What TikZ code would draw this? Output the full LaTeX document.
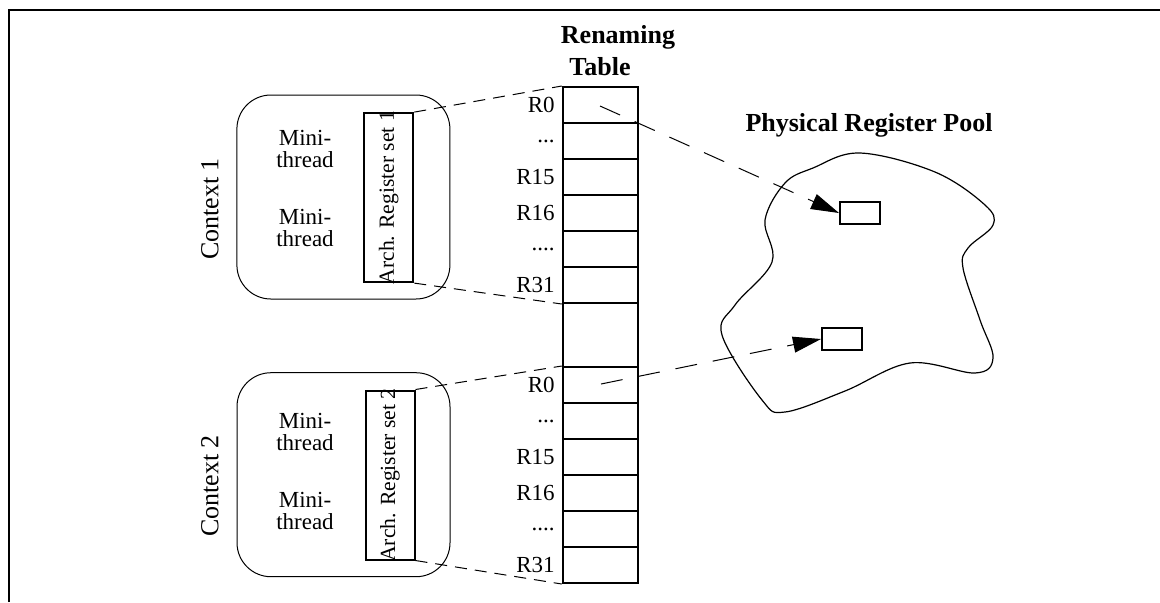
\documentclass[tikz,border=0pt]{standalone}
\usepackage{fontspec}
\setmainfont{Liberation Serif}
\usetikzlibrary{arrows.meta}

\tikzset{
  cell/.style={draw,line width=1pt,minimum width=37.75pt,minimum height=18pt,inner sep=0pt},
  reglbl/.style={font=\fontsize{11.5}{12}\selectfont},
  ctxbox/.style={draw,line width=0.5pt,rounded corners=17pt,minimum width=106.5pt,minimum height=102pt},
  archbox/.style={draw,line width=1pt,minimum width=24.5pt,minimum height=84.5pt,inner sep=0pt},
  archtext/.style={rotate=90,font=\fontsize{10.8}{12}\selectfont},
  ctxtext/.style={rotate=90,font=\fontsize{13}{14}\selectfont},
  minitext/.style={align=center,font=\fontsize{11.5}{11.4}\selectfont},
  headtext/.style={font=\fontsize{13}{14}\selectfont\bfseries},
  preg/.style={draw,line width=1pt,minimum width=20pt,minimum height=11pt,inner sep=0pt},
  link/.style={dash pattern=on 6pt off 4pt,line width=0.5pt},
  maparrow/.style={dash pattern=on 11pt off 8pt,line width=0.5pt,-{Triangle[length=14pt,width=8pt]}}
}

\begin{document}
\begin{tikzpicture}[x=0.5pt,y=-0.5pt]
\useasboundingbox (0,0) rectangle (1160,602);
% frame
\draw[line width=1.2pt] (9,602) -- (9,10) -- (1160,10);

% renaming table
\node[headtext] (rnhead) at (618,37) {Renaming};
\node[headtext] (tbhead) at (600,67) {Table};
\foreach \i/\lab in {1/R0,2/.{}.{}.,3/R15,4/R16,5/.{}.{}.{}.,6/R31}{
  \node[cell,label={[reglbl]left:\lab}] (ta\i) at (600.5,69+36*\i) {};
  \node[cell,label={[reglbl]left:\lab}] (tb\i) at (600.5,349+36*\i) {};
}
\node[cell,minimum height=32pt] (tgap) at (600.5,335) {};

% contexts
\begin{scope}
  \node[ctxbox] (ctx1) at (343.4,197) {};
  \node[ctxbox] (ctx2) at (343.5,474.7) {};
  \node[ctxtext] (ctx1lbl) at (210,209) {Context 1};
  \node[ctxtext] (ctx2lbl) at (210,486) {Context 2};
  \node[minitext] (mt1a) at (305,149) {Mini-\\thread};
  \node[minitext] (mt1b) at (305,228) {Mini-\\thread};
  \node[minitext] (mt2a) at (305,432) {Mini-\\thread};
  \node[minitext] (mt2b) at (305,511) {Mini-\\thread};
  \node[archbox] (arch1) at (388.8,197.6) {};
  \node[archbox] (arch2) at (390,475) {};
  \node[archtext] at (arch1) {Arch. Register set 1};
  \node[archtext] at (arch2) {Arch. Register set 2};
\end{scope}

% links to the table
\draw[link] (arch1.north east) -- (ta1.north west);
\draw[link] (arch1.south east) -- (ta6.south west);
\draw[link] (arch2.north east) -- (tb1.north west);
\draw[link] (arch2.south east) -- (tb6.south west);

% physical register pool
\node[headtext] (poolhead) at (869,125) {Physical Register Pool};
\draw[line width=0.6pt] plot[smooth cycle,tension=0.6] coordinates {
  (813,168) (860,153) (935,172) (985,205) (993,225) (968,248) (963,268)
  (980,320) (993,358) (975,373) (910,363) (845,391) (785,412) (762,400)
  (722,335) (735,305) (772,262) (765,220) (785,183)};
\node[preg] (preg1) at (860,213) {};
\node[preg] (preg2) at (842,339) {};

\coordinate (src1) at (600,106);
\coordinate (src2) at (601,384);
\draw[maparrow] (src1) -- (preg1.west);
\draw[maparrow] (src2) -- (preg2.west);
\end{tikzpicture}
\end{document}
